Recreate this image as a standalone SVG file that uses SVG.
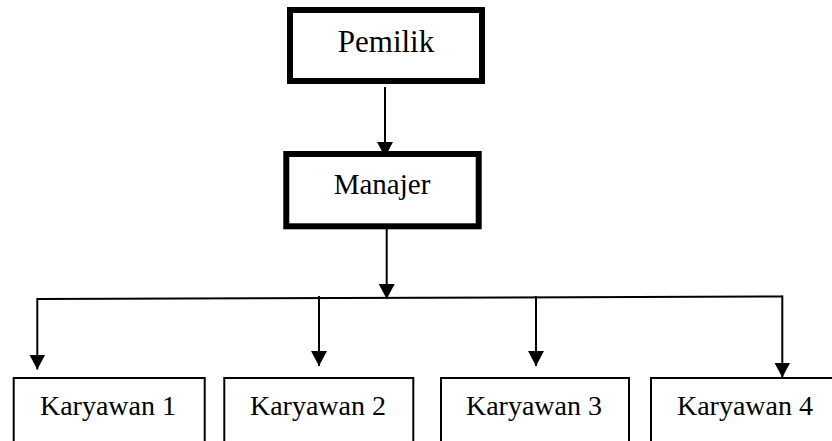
<svg xmlns="http://www.w3.org/2000/svg" width="832" height="441" viewBox="0 0 832 441">
<style>
.thick{fill:#fff;stroke:#000;stroke-width:6}
.thin{fill:#fff;stroke:#000;stroke-width:2}
.con{fill:none;stroke:#000;stroke-width:2}
text{font-family:"Liberation Serif","Times New Roman",serif;fill:#000;text-anchor:middle}
</style>
<defs>
<marker id="arr" markerUnits="userSpaceOnUse" markerWidth="16" markerHeight="16" refX="15" refY="8" orient="auto">
<path d="M0,0 L15,8 L0,16 Z" fill="#000"/>
</marker>
</defs>
<rect width="832" height="441" fill="#fff"/>
<g id="pemilik">
<rect class="thick" x="290" y="10" width="192" height="71"/>
<text x="386" y="52" font-size="31">Pemilik</text>
</g>
<g id="manajer">
<rect class="thick" x="286.3" y="154" width="192.4" height="72.3"/>
<text x="382" y="194" font-size="29">Manajer</text>
</g>
<g id="karyawan1">
<rect class="thin" x="13.7" y="378" width="191" height="100"/>
<text x="108" y="415" font-size="28">Karyawan 1</text>
</g>
<g id="karyawan2">
<rect class="thin" x="224.3" y="378" width="189" height="100"/>
<text x="318" y="415" font-size="28">Karyawan 2</text>
</g>
<g id="karyawan3">
<rect class="thin" x="441" y="378" width="188" height="100"/>
<text x="534" y="415" font-size="28">Karyawan 3</text>
</g>
<g id="karyawan4">
<path class="thin" d="M651,460 L651,378 L850,378"/>
<text x="745" y="415" font-size="28">Karyawan 4</text>
</g>
<g id="connectors">
<path class="con" d="M385,87 L385,157" marker-end="url(#arr)"/>
<path class="con" d="M386.7,229 L386.7,299" marker-end="url(#arr)"/>
<path class="con" d="M37.3,299 L782.3,296.5"/>
<path class="con" d="M37.3,298 L37.3,369.5" marker-end="url(#arr)"/>
<path class="con" d="M319,296 L319,366" marker-end="url(#arr)"/>
<path class="con" d="M536,296 L536,366" marker-end="url(#arr)"/>
<path class="con" d="M782.3,295.5 L782.3,377.5" marker-end="url(#arr)"/>
</g>
</svg>
